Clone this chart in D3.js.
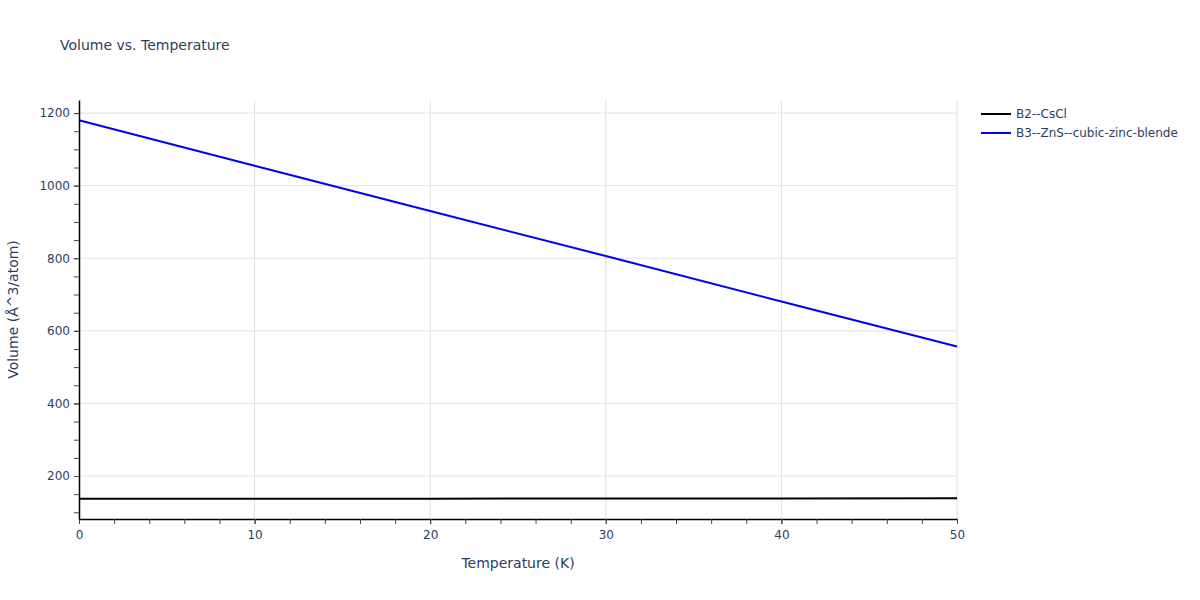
<!DOCTYPE html>
<meta charset="utf-8">
<script src="https://d3js.org/d3.v7.min.js"></script>
<style>
  body { margin: 0; background: #fff; }
  text { font-family: "DejaVu Sans", Verdana, sans-serif; fill: #2a3f5f; }
</style>
<div id="my_dataviz"></div>
<script>
// data
var temperature = [0, 10, 20, 30, 40, 50];
var volumeB2 = [137, 137.3, 137.6, 137.9, 138.2, 138.5];
var volumeB3 = [1180, 1055, 930, 806, 681, 557];
var seriesNames = ["B2--CsCl", "B3--ZnS--cubic-zinc-blende"];
var seriesColors = ["#000000", "#0000ff"];
var xTicks = [0, 10, 20, 30, 40, 50];
var yTicks = [200, 400, 600, 800, 1000, 1200];

var W = 1200, H = 600;
var margin = {top: 100, right: 243, bottom: 81, left: 79},
    width = W - margin.left - margin.right,
    height = H - margin.top - margin.bottom;

var svg = d3.select("#my_dataviz")
  .append("svg")
    .attr("width", W)
    .attr("height", H);

var g = svg.append("g")
    .attr("transform", "translate(" + margin.left + "," + margin.top + ")");

var x = d3.scaleLinear().domain([0, 50]).range([0, width]);
var y = d3.scaleLinear().domain([81.5, 1236]).range([height, 0]);

// grid
g.append("g").selectAll("line")
  .data(xTicks.slice(1))
  .enter().append("line")
    .attr("x1", function(d){ return x(d) }).attr("x2", function(d){ return x(d) })
    .attr("y1", 0).attr("y2", height)
    .attr("stroke", "#e0e0e0").attr("stroke-width", 1);
g.append("g").selectAll("line")
  .data(yTicks)
  .enter().append("line")
    .attr("x1", 0).attr("x2", width)
    .attr("y1", function(d){ return y(d) }).attr("y2", function(d){ return y(d) })
    .attr("stroke", "#e0e0e0").attr("stroke-width", 1);

// lines
var series = [volumeB2, volumeB3];
series.forEach(function(vals, i) {
  g.append("path")
    .datum(temperature.map(function(t, j){ return [t, vals[j]] }))
    .attr("fill", "none")
    .attr("stroke", seriesColors[i])
    .attr("stroke-width", 2)
    .attr("d", d3.line()
      .x(function(d){ return x(d[0]) })
      .y(function(d){ return y(d[1]) }));
});

// x axis
var xAxis = g.append("g")
  .attr("transform", "translate(0," + height + ")");
xAxis.call(d3.axisBottom(x).tickValues(d3.range(0, 51, 2)).tickSize(5).tickSizeOuter(0).tickFormat(""));
var xMajor = g.append("g")
  .attr("transform", "translate(0," + height + ")");
xMajor.call(d3.axisBottom(x).tickValues(xTicks).tickSize(5).tickPadding(6).tickFormat(d3.format("d")));
xMajor.select(".domain").remove();
xAxis.selectAll(".domain").attr("stroke", "#000").attr("stroke-width", 1.5);
xMajor.selectAll("text").style("font-size", "12px").style("fill", "#2a3f5f")
  .style("font-family", "'DejaVu Sans', sans-serif");

// y axis
var yAxis = g.append("g");
yAxis.call(d3.axisLeft(y).tickValues(d3.range(100, 1236, 50)).tickSize(5).tickSizeOuter(0).tickFormat(""));
var yMajor = g.append("g");
yMajor.call(d3.axisLeft(y).tickValues(yTicks).tickSize(5).tickPadding(4).tickFormat(d3.format("d")));
yMajor.select(".domain").remove();
yAxis.selectAll(".domain").attr("stroke", "#000").attr("stroke-width", 1.5);
g.selectAll(".tick line").attr("stroke", "#444");
yMajor.selectAll("text").style("font-size", "12px").style("fill", "#2a3f5f")
  .style("font-family", "'DejaVu Sans', sans-serif");

// titles
svg.append("text")
  .attr("x", 60).attr("y", 50)
  .text("Volume vs. Temperature")
  .style("font-size", "14px");

svg.append("text")
  .attr("x", margin.left + width / 2).attr("y", 568)
  .attr("text-anchor", "middle")
  .text("Temperature (K)")
  .style("font-size", "14px");

svg.append("text")
  .attr("transform", "translate(18," + (margin.top + height / 2) + ") rotate(-90)")
  .attr("text-anchor", "middle")
  .text("Volume (Å^3/atom)")
  .style("font-size", "14px");

// legend
seriesNames.forEach(function(name, i) {
  var ly = 114 + i * 19;
  svg.append("line")
    .attr("x1", 981).attr("x2", 1011)
    .attr("y1", ly).attr("y2", ly)
    .attr("stroke", seriesColors[i]).attr("stroke-width", 2);
  svg.append("text")
    .attr("x", 1016).attr("y", ly + 4)
    .text(name)
    .style("font-size", "12px");
});
</script>
